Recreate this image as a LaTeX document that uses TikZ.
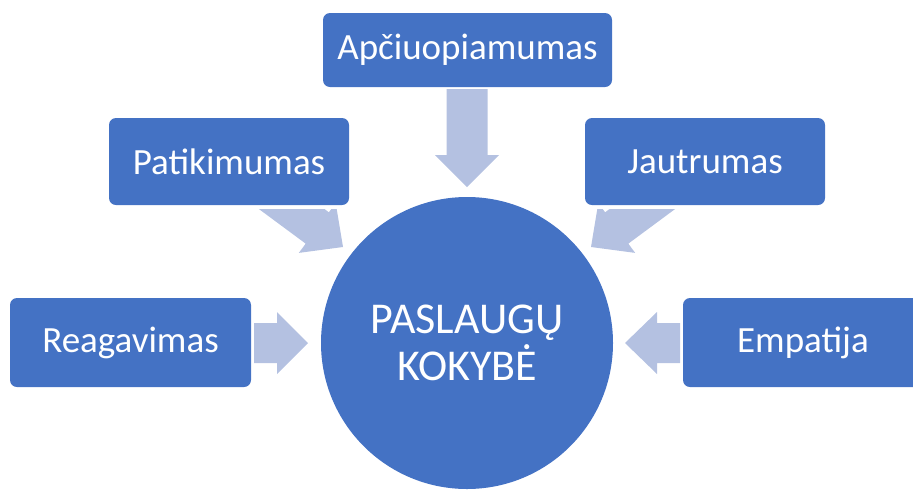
\documentclass[tikz,border=0pt]{standalone}
\usepackage{fontspec}
\setmainfont{Carlito}
\begin{document}
\begin{tikzpicture}[x=1pt,y=-1pt,
  box/.style={rectangle, rounded corners=7pt, fill=boxblue, text=white,
    inner sep=0pt, font=\fontsize{37}{44}\selectfont},
  hub/.style={circle, fill=boxblue, text=white, inner sep=0pt,
    minimum size=292pt, align=center, font=\fontsize{44}{47}\selectfont},
  blockarrow/.style={fill=arrowblue, draw=none}
]
\definecolor{boxblue}{HTML}{4472C4}
\definecolor{arrowblue}{HTML}{B4C1E1}
\useasboundingbox (0,0) rectangle (913,491);

% straight block arrows
\fill[blockarrow] (467,187) -- (435,155) -- (446.5,155) -- (446.5,89)
  -- (487.5,89) -- (487.5,155) -- (499,155) -- cycle;
\fill[blockarrow] (308,343) -- (277,312) -- (277,323) -- (254,323)
  -- (254,363) -- (277,363) -- (277,374) -- cycle;
\fill[blockarrow] (625,343) -- (657,312) -- (657,323) -- (680,323)
  -- (680,363) -- (657,363) -- (657,374) -- cycle;

% diagonal block arrows, their tails cut off just below the upper boxes
\begin{scope}
  \clip (0,209) rectangle (913,491);
  \begin{scope}[shift={(343,247)}, rotate=-36.5]
    \fill[blockarrow] (0,0) -- (-32,31) -- (-32,19.5) -- (-110,19.5)
      -- (-110,-19.5) -- (-32,-19.5) -- (-32,-31) -- cycle;
  \end{scope}
  \begin{scope}[shift={(591,247)}, rotate=216.5]
    \fill[blockarrow] (0,0) -- (-32,31) -- (-32,19.5) -- (-110,19.5)
      -- (-110,-19.5) -- (-32,-19.5) -- (-32,-31) -- cycle;
  \end{scope}
\end{scope}

% boxes
\node[box, minimum width=289pt, minimum height=74pt] (apc) at (467.5,50) {Apčiuopiamumas};
\node[box, minimum width=240pt, minimum height=87pt] (pat) at (229,161.5) {Patikimumas};
\node[box, minimum width=240pt, minimum height=87pt] (jau) at (705,161.5) {Jautrumas};
\node[box, minimum width=241pt, minimum height=89pt] (rea) at (130.5,342.5) {Reagavimas};
\node[box, minimum width=240pt, minimum height=89pt] (emp) at (803,342.5) {Empatija};

% central circle
\node[hub] (core) at (467,343) {PASLAUGŲ\\KOKYBĖ};
\end{tikzpicture}
\end{document}
